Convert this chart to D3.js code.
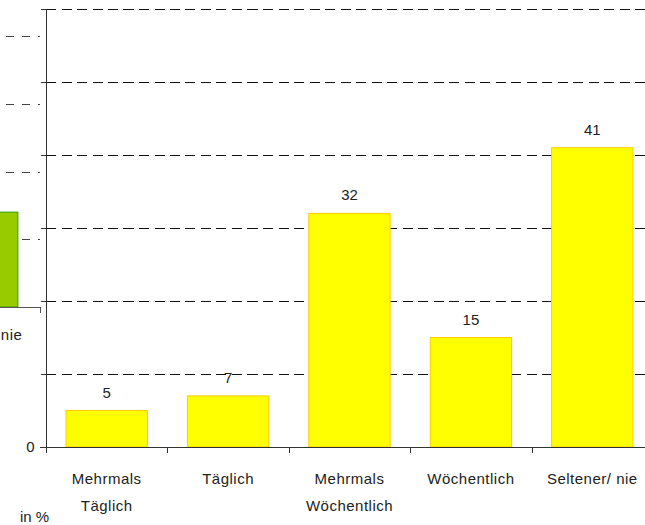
<!DOCTYPE html>
<html>
<head>
<meta charset="utf-8">
<script src="https://cdn.jsdelivr.net/npm/d3@7"></script>
<style>
  body { margin: 0; background: #fff; }
  svg { display: block; font-family: "Liberation Sans", Arial, sans-serif; }
  line, path { shape-rendering: crispEdges; }
</style>
</head>
<body>
<div id="viz"></div>
<script>
// main chart data
const categories = ["Mehrmals Täglich", "Täglich", "Mehrmals Wöchentlich", "Wöchentlich", "Seltener/ nie"];
const labelLines = [["Mehrmals", "Täglich"], ["Täglich"], ["Mehrmals", "Wöchentlich"], ["Wöchentlich"], ["Seltener/ nie"]];
const values = [5, 7, 32, 15, 41];
const yTicks = [0, 10, 20, 30, 40, 50, 60];

// leftover of the previous chart, cut off at the left edge
const ghostCategories = ["Seltener/ nie"];
const ghostValues = [14];
const ghostTicks = [10, 20, 30, 40];

const W = 645, H = 525;

const svg = d3.select("#viz").append("svg")
  .attr("width", W)
  .attr("height", H);

// ---- ghost chart (partly visible on the left)
const gx = d3.scaleBand().domain(ghostCategories).range([-84, 38]).paddingInner(0.33).paddingOuter(0.165);
const gy = d3.scaleLinear().domain([0, 40]).range([307, 36]);
const ghost = svg.append("g");

ghost.selectAll("line.grid")
  .data(ghostTicks)
  .join("line")
  .attr("x1", 6).attr("x2", 40)
  .attr("y1", d => Math.round(gy(d)) + 0.5).attr("y2", d => Math.round(gy(d)) + 0.5)
  .attr("stroke", "#444")
  .attr("stroke-dasharray", "8,8");

ghost.selectAll("rect")
  .data(ghostValues)
  .join("rect")
  .attr("x", (d, i) => gx(ghostCategories[i]))
  .attr("y", d => gy(d))
  .attr("width", gx.bandwidth())
  .attr("height", d => gy(0) - gy(d))
  .attr("fill", "#99cc00")
  .attr("stroke", "#339900");

ghost.append("path")
  .attr("d", `M-5,${gy(0) + 0.5}H40.5V${gy(0) + 6}`)
  .attr("fill", "none")
  .attr("stroke", "#555");

ghost.selectAll("text")
  .data(ghostCategories)
  .join("text")
  .attr("x", d => gx(d) + gx.bandwidth() / 2)
  .attr("y", 340)
  .attr("text-anchor", "middle")
  .attr("font-size", 15)
  .attr("letter-spacing", 0.5)
  .attr("fill", "#222")
  .text(d => d);

// ---- main chart
const x = d3.scaleBand().domain(categories).range([46, 653]).paddingInner(0.33).paddingOuter(0.165);
const y = d3.scaleLinear().domain([0, 60]).range([447, 9]);

// dashed gridlines
svg.selectAll("line.grid")
  .data(yTicks.filter(d => d > 0))
  .join("line")
  .attr("class", "grid")
  .attr("x1", 46).attr("x2", W)
  .attr("y1", d => Math.round(y(d)) + 0.5).attr("y2", d => Math.round(y(d)) + 0.5)
  .attr("stroke", "#111")
  .attr("stroke-dasharray", "10,5.5");

// bars
svg.selectAll("rect.bar")
  .data(values)
  .join("rect")
  .attr("class", "bar")
  .attr("x", (d, i) => x(categories[i]))
  .attr("y", d => y(d))
  .attr("width", x.bandwidth())
  .attr("height", d => y(0) - y(d))
  .attr("fill", "#ffff00")
  .attr("stroke", "#ffcc00");

// value labels
svg.selectAll("text.val")
  .data(values)
  .join("text")
  .attr("class", "val")
  .attr("x", (d, i) => x(categories[i]) + x.bandwidth() / 2)
  .attr("y", d => y(d) - 13)
  .attr("text-anchor", "middle")
  .attr("font-size", 15)
  .attr("fill", "#222")
  .text(d => d);

// y axis, only the zero gets a label
const yAxis = svg.append("g")
  .attr("transform", "translate(46.5,0)")
  .call(d3.axisLeft(y).tickValues(yTicks).tickSize(6).tickSizeOuter(0).tickFormat(d => d === 0 ? "0" : ""));
yAxis.select(".domain").attr("stroke", "#333").attr("d", `M0,${y(60)}V${y(0) + 6}`);
yAxis.selectAll(".tick line").attr("stroke", "#333");
yAxis.selectAll(".tick text")
  .attr("font-family", "Liberation Sans, Arial, sans-serif")
  .attr("font-size", 15)
  .attr("fill", "#222")
  .attr("x", -12);

// x axis: line plus ticks on the band boundaries
const xAxis = svg.append("g");
xAxis.append("line")
  .attr("x1", 40).attr("x2", W)
  .attr("y1", y(0) + 0.5).attr("y2", y(0) + 0.5)
  .attr("stroke", "#333");
const pad = (x.step() - x.bandwidth()) / 2;
const bounds = categories.map(c => x(c) - pad).concat([x(categories[categories.length - 1]) + x.bandwidth() + pad]);
xAxis.selectAll("line.tick")
  .data(bounds)
  .join("line")
  .attr("class", "tick")
  .attr("x1", d => Math.round(d) + 0.5).attr("x2", d => Math.round(d) + 0.5)
  .attr("y1", y(0)).attr("y2", y(0) + 6)
  .attr("stroke", "#333");

// category labels
const lab = svg.selectAll("text.cat")
  .data(labelLines)
  .join("text")
  .attr("class", "cat")
  .attr("text-anchor", "middle")
  .attr("font-size", 15)
  .attr("letter-spacing", 0.5)
  .attr("fill", "#222");
lab.each(function(lines, i) {
  const cx = x(categories[i]) + x.bandwidth() / 2;
  d3.select(this).selectAll("tspan")
    .data(lines)
    .join("tspan")
    .attr("x", cx)
    .attr("y", (d, j) => 484 + j * 27)
    .text(d => d);
});

// unit label
svg.append("text")
  .attr("x", 20)
  .attr("y", 522)
  .attr("font-size", 15)
  .attr("fill", "#222")
  .text("in %");
</script>
</body>
</html>
